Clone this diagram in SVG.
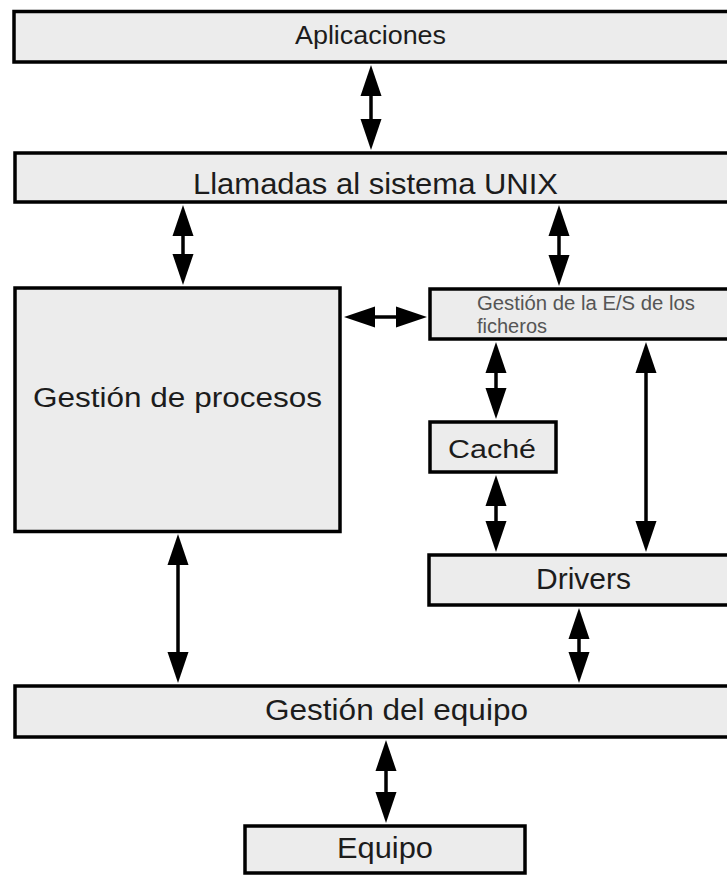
<svg xmlns="http://www.w3.org/2000/svg" width="727" height="876" viewBox="0 0 727 876">
<style>
.box{fill:#ececec;stroke:#000;stroke-width:3.5}
.t{font-family:"Liberation Sans",Arial,sans-serif;fill:#1c1c1c;text-anchor:middle}
.s{font-family:"Liberation Sans",Arial,sans-serif;fill:#555;font-size:20px}
.c{stroke:#000;stroke-width:3.5;fill:none;marker-start:url(#ah);marker-end:url(#ah)}
</style>
<defs>
<marker id="ah" viewBox="0 -11 31 22" refX="1" refY="0" markerWidth="31" markerHeight="22" markerUnits="userSpaceOnUse" orient="auto-start-reverse">
<path d="M0,-10.5 L31,0 L0,10.5 Z" fill="#000"/>
</marker>
</defs>
<rect width="727" height="876" fill="#fff"/>
<g id="aplicaciones">
<rect class="box" x="14" y="11.5" width="740" height="50.5"/>
<text class="t" x="370.5" y="44" font-size="25" textLength="151" lengthAdjust="spacingAndGlyphs">Aplicaciones</text>
</g>
<g id="llamadas">
<rect class="box" x="15" y="153" width="740" height="49"/>
<text class="t" x="375.5" y="194" font-size="29" textLength="365" lengthAdjust="spacingAndGlyphs">Llamadas al sistema UNIX</text>
</g>
<g id="procesos">
<rect class="box" x="15" y="288" width="325" height="243.5"/>
<text class="t" x="177.5" y="407" font-size="27" textLength="289" lengthAdjust="spacingAndGlyphs">Gestión de procesos</text>
</g>
<g id="es-ficheros">
<rect class="box" x="430" y="289" width="320" height="50"/>
<text class="s" x="477" y="310" textLength="218" lengthAdjust="spacingAndGlyphs">Gestión de la E/S de los</text>
<text class="s" x="477" y="333" textLength="70" lengthAdjust="spacingAndGlyphs">ficheros</text>
</g>
<g id="cache">
<rect class="box" x="430" y="422" width="126" height="50"/>
<text class="t" x="492" y="458" font-size="25" textLength="88" lengthAdjust="spacingAndGlyphs">Caché</text>
</g>
<g id="drivers">
<rect class="box" x="429" y="555" width="320" height="50"/>
<text class="t" x="583.5" y="589" font-size="29" textLength="95" lengthAdjust="spacingAndGlyphs">Drivers</text>
</g>
<g id="gestion-equipo">
<rect class="box" x="15" y="686" width="740" height="51"/>
<text class="t" x="396.5" y="720" font-size="30" textLength="263" lengthAdjust="spacingAndGlyphs">Gestión del equipo</text>
</g>
<g id="equipo">
<rect class="box" x="245" y="826" width="280" height="47"/>
<text class="t" x="385" y="858" font-size="29" textLength="96" lengthAdjust="spacingAndGlyphs">Equipo</text>
</g>
<g id="connectors">
<line class="c" x1="371" y1="95" x2="371" y2="120"/>
<line class="c" x1="183" y1="235" x2="183" y2="255"/>
<line class="c" x1="559" y1="235" x2="559" y2="256"/>
<line class="c" x1="374" y1="317" x2="397" y2="317"/>
<line class="c" x1="496" y1="372" x2="496" y2="389"/>
<line class="c" x1="496" y1="505" x2="496" y2="522"/>
<line class="c" x1="646" y1="372" x2="646" y2="522"/>
<line class="c" x1="178" y1="564" x2="178" y2="653"/>
<line class="c" x1="579" y1="638" x2="579" y2="653"/>
<line class="c" x1="386" y1="770" x2="386" y2="793"/>
</g>
</svg>
